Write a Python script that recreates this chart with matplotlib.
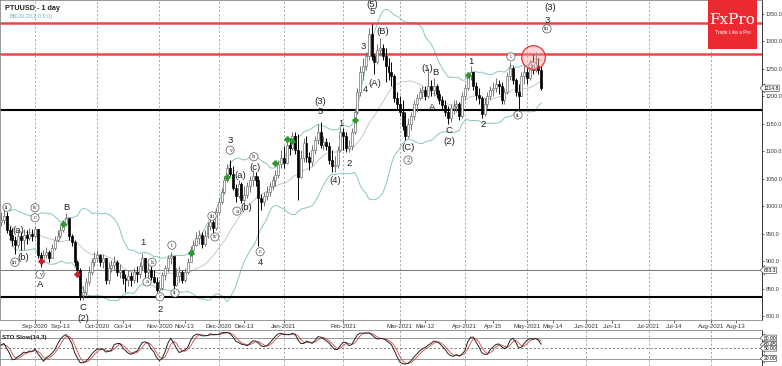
import numpy as np
import pandas as pd
import matplotlib.pyplot as plt
from matplotlib.patches import Rectangle

plt.rcParams['font.family'] = ['Liberation Sans', 'DejaVu Sans']

# price data, PTUUSD daily
start_date = "2020-08-13"
first_open = 968
closes = [971, 975, 982, 957, 948, 938, 929, 946, 938, 948, 942, 949, 946, 958, 911, 898, 911, 917, 906, 924,
          938, 946, 957, 968, 978, 946, 935, 898, 884, 838, 844, 862, 880, 898, 906, 911, 898, 906, 866, 887,
          893, 898, 880, 884, 869, 866, 873, 866, 880, 876, 891, 906, 880, 884, 871, 862, 847, 851, 875, 887,
          906, 909, 857, 873, 880, 866, 880, 898, 920, 929, 942, 948, 931, 946, 964, 971, 960, 989, 1008, 1026,
          1048, 1070, 1059, 1033, 1019, 1040, 1011, 1020, 1037, 1048, 1055, 1048, 1015, 1008, 1019, 1026, 1037, 1048, 1057, 1077,
          1088, 1079, 1111, 1106, 1128, 1102, 1053, 1088, 1115, 1090, 1080, 1102, 1121, 1135, 1111, 1117, 1110, 1084, 1073, 1075,
          1102, 1135, 1128, 1106, 1110, 1135, 1171, 1208, 1244, 1255, 1273, 1314, 1273, 1263, 1284, 1288, 1273, 1255, 1244, 1237,
          1197, 1186, 1171, 1146, 1128, 1150, 1164, 1186, 1197, 1208, 1212, 1201, 1219, 1212, 1219, 1204, 1193, 1184, 1171, 1161,
          1179, 1182, 1186, 1164, 1201, 1215, 1237, 1244, 1219, 1202, 1197, 1168, 1186, 1201, 1212, 1215, 1223, 1219, 1193, 1208,
          1237, 1252, 1230, 1208, 1201, 1237, 1244, 1233, 1255, 1248, 1255, 1248, 1214.8]
highs = [984, 989, 993, 989, 964, 960, 946, 955, 953, 958, 957, 960, 958, 964, 958, 917, 920, 926, 920, 931,
         946, 957, 966, 975, 988, 975, 949, 938, 902, 887, 855, 869, 891, 906, 917, 920, 913, 913, 906, 898,
         902, 909, 902, 895, 884, 876, 884, 880, 887, 891, 898, 915, 906, 898, 891, 884, 871, 866, 880, 893,
         911, 917, 906, 887, 891, 884, 887, 906, 927, 938, 953, 957, 953, 957, 971, 982, 975, 997, 1015, 1033,
         1055, 1077, 1084, 1073, 1040, 1048, 1044, 1037, 1044, 1055, 1066, 1062, 1055, 1022, 1026, 1037, 1044, 1055, 1066, 1084,
         1102, 1110, 1121, 1124, 1135, 1135, 1131, 1102, 1124, 1128, 1099, 1111, 1128, 1150, 1153, 1128, 1124, 1117, 1102, 1091,
         1110, 1144, 1142, 1135, 1121, 1142, 1179, 1215, 1255, 1270, 1281, 1324, 1332, 1277, 1295, 1306, 1295, 1288, 1270, 1263,
         1241, 1208, 1201, 1193, 1171, 1161, 1171, 1193, 1204, 1215, 1219, 1219, 1252, 1230, 1233, 1222, 1212, 1201, 1193, 1182,
         1186, 1193, 1193, 1190, 1208, 1222, 1244, 1255, 1244, 1226, 1215, 1201, 1197, 1208, 1219, 1226, 1233, 1230, 1226, 1215,
         1244, 1263, 1255, 1233, 1223, 1244, 1255, 1252, 1266, 1277, 1281, 1270, 1255]
lows = [953, 964, 968, 951, 938, 927, 913, 924, 920, 920, 931, 938, 937, 942, 906, 889, 898, 906, 898, 906,
        920, 935, 942, 953, 964, 938, 927, 891, 875, 829, 829, 836, 856, 875, 891, 898, 891, 887, 858, 858,
        880, 884, 873, 869, 858, 844, 855, 855, 860, 862, 869, 884, 871, 869, 866, 860, 844, 842, 847, 866,
        880, 895, 844, 855, 862, 860, 862, 876, 898, 917, 927, 931, 924, 927, 942, 957, 951, 957, 986, 1004,
        1022, 1044, 1055, 1030, 1008, 1015, 1006, 1008, 1015, 1026, 1037, 1037, 928, 993, 1000, 1011, 1019, 1030, 1037, 1051,
        1070, 1070, 1077, 1093, 1102, 1095, 1011, 1051, 1080, 1080, 1066, 1073, 1095, 1113, 1106, 1102, 1102, 1077, 1062, 1062,
        1070, 1099, 1102, 1099, 1099, 1102, 1131, 1168, 1201, 1230, 1248, 1266, 1266, 1241, 1259, 1273, 1266, 1226, 1230, 1219,
        1190, 1175, 1164, 1139, 1121, 1124, 1139, 1157, 1171, 1193, 1197, 1193, 1197, 1201, 1201, 1197, 1186, 1175, 1164, 1150,
        1153, 1168, 1171, 1157, 1161, 1193, 1212, 1230, 1212, 1193, 1186, 1161, 1164, 1179, 1193, 1201, 1208, 1204, 1186, 1186,
        1204, 1230, 1223, 1201, 1171, 1201, 1223, 1223, 1230, 1241, 1244, 1241, 1212]
opens = [first_open] + closes[:-1]

# horizontal levels
red_levels = [1333.6, 1277.2]
black_levels = [1175.2, 834.7]
gray_level = 883.3

# axis labels
price_ticks = [800, 850, 900, 950, 1000, 1050, 1100, 1150, 1200, 1250, 1300, 1350]
tick_dates = ["2020-09-01", "2020-09-13", "2020-10-01", "2020-10-14", "2020-11-01", "2020-11-13",
              "2020-12-01", "2020-12-13", "2021-01-01", "2021-02-01", "2021-03-01", "2021-03-12",
              "2021-04-01", "2021-04-15", "2021-05-01", "2021-05-14", "2021-06-01", "2021-06-13",
              "2021-07-01", "2021-07-14", "2021-08-01", "2021-08-13"]
tick_labels = ["Sep-2020", "Sep-13", "Oct-2020", "Oct-14", "Nov-2020", "Nov-13", "Dec-2020", "Dec-13",
               "Jan-2021", "Feb-2021", "Mar-2021", "Mar-12", "Apr-2021", "Apr-15", "May-2021", "May-14",
               "Jun-2021", "Jun-13", "Jul-2021", "Jul-14", "Aug-2021", "Aug-13"]

# elliott wave labels: text, bar position, price, circled
wave_text = ["ii", "iii", "(a)", "(b)", "iv", "c", "v", "A", "B", "C", "(2)",
             "1", "a", "b", "c", "2", "i", "ii", "iii", "iv", "v", "3", "(a)", "a", "(b)", "b", "(c)", "c", "4",
             "(3)", "5", "(4)", "1", "2", "3", "4", "(5)", "5", "(A)", "(B)", "(C)", "2",
             "(1)", "B", "A", "C", "(2)", "1", "2", "i", "ii", "iii", "(3)", "3", "iii"]
wave_x = [3.1, 5.9, 7.0, 8.8, 13.0, 13.0, 14.8, 14.8, 24.0, 30.0, 30.0,
          51.2, 52.6, 54.4, 57.2, 57.4, 61.4, 62.5, 75.6, 76.6, 82.0, 82.0, 85.5, 84.4, 87.6, 90.4, 90.8, 92.6, 92.6,
          113.8, 113.8, 119.1, 121.2, 124.0, 129.0, 130.0, 132.2, 132.2, 133.2, 136.0, 144.9, 144.9,
          151.6, 154.6, 153.4, 159.4, 159.4, 167.2, 171.4, 181.3, 183.8, 189.1, 195.1, 194.0, 194.0]
wave_y = [998, 898, 955, 906, 997, 979, 876, 857, 997, 815, 795,
          933, 862, 898, 835, 811, 929, 842, 982, 944, 1102, 1120, 1055, 991, 998, 1090, 1071, 917, 898,
          1190, 1172, 1046, 1150, 1077, 1290, 1212, 1368, 1354, 1224, 1319, 1106, 1084,
          1250, 1243, 1179, 1137, 1117, 1263, 1148, 1272, 1166, 1255, 1361, 1339, 1323]
wave_circ = [1, 1, 0, 0, 1, 1, 1, 0, 0, 0, 0,
             0, 1, 1, 1, 0, 1, 1, 1, 1, 1, 0, 0, 1, 0, 1, 0, 1, 0,
             0, 0, 0, 0, 0, 0, 0, 0, 0, 0, 0, 0, 1,
             0, 0, 0, 0, 0, 0, 0, 1, 1, 1, 0, 0, 1]

# signal markers
green_x = [23, 68, 81, 98, 102, 104, 126, 166]
green_y = [968, 915, 1053, 1079, 1122, 1119, 1157, 1239]
red_x = [15, 28]
red_y = [900, 876]

# --- indicators
c = pd.Series(closes, dtype=float)
h = pd.Series(highs, dtype=float)
l = pd.Series(lows, dtype=float)
mid = c.rolling(20, min_periods=5).mean()
sd = c.rolling(20, min_periods=5).std(ddof=0)
upper = mid + 2 * sd
lower = mid - 2 * sd
hh = h.rolling(14, min_periods=1).max()
ll = l.rolling(14, min_periods=1).min()
raw_k = 100 * (c - ll) / (hh - ll)
k_line = raw_k.rolling(3, min_periods=1).mean()
d_line = k_line.rolling(3, min_periods=1).mean()

all_dates = pd.bdate_range(start_date, "2021-09-30")
tick_pos = [all_dates.searchsorted(pd.Timestamp(d)) for d in tick_dates]
grid_pos = [p for p, t in zip(tick_pos, tick_labels) if "20" in t[-4:]]
n = len(closes)
idx = np.arange(n)
xmin, xmax = 0.624, 270.07

W, H = 782, 366
fig = plt.figure(figsize=(W / 100, H / 100), dpi=100)
ax = fig.add_axes([0, 1 - 320 / H, 762 / W, 320 / H])
sto = fig.add_axes([0, 0, 762 / W, 36 / H])

# --- main panel
ax.vlines(grid_pos, 0, 1, transform=ax.get_xaxis_transform(), colors="#9a9a9a",
          linestyles=(0, (2.5, 2.5)), lw=0.6, zorder=0)
ax.plot(idx, upper, color="#8cc4c4", lw=0.7, zorder=1)
ax.plot(idx, lower, color="#8cc4c4", lw=0.7, zorder=1)
ax.plot(idx, mid, color="#b4c4c4", lw=0.6, zorder=1)

for lev in red_levels:
    ax.axhline(lev, color="#e8474a", lw=1.8, zorder=2)
for lev in black_levels:
    ax.axhline(lev, color="black", lw=1.5, zorder=2)
ax.axhline(gray_level, color="#777777", lw=0.7, zorder=2)

o = np.array(opens, dtype=float)
cl = np.array(closes, dtype=float)
up = cl >= o
ax.vlines(idx, lows, highs, colors=np.where(up, "#707070", "black"), lw=0.7, zorder=3)
body = np.maximum(np.abs(cl - o), 1.0)
ax.bar(idx[up], body[up], bottom=np.minimum(o, cl)[up], width=0.7,
       color="white", edgecolor="#707070", lw=0.5, zorder=4)
ax.bar(idx[~up], body[~up], bottom=np.minimum(o, cl)[~up], width=0.7,
       color="black", edgecolor="black", lw=0.5, zorder=4)

ax.plot(green_x, green_y, ls="none", marker="P", ms=3.5, color="#2e9a2e", zorder=5)
ax.plot(red_x, red_y, ls="none", marker="P", ms=3.5, color="#c8202a", zorder=5)

for t, xx, yy, cc in zip(wave_text, wave_x, wave_y, wave_circ):
    if cc:
        ax.text(xx, yy, t, fontsize=3.8, ha="center", va="center", color="#333333", zorder=6,
                family="DejaVu Serif",
                bbox=dict(boxstyle="circle,pad=0.3", fc="white", ec="#555555", lw=0.5))
    else:
        ax.text(xx, yy, t, fontsize=6.8, ha="center", va="center", color="#222222", zorder=6)

# highlight circle at the resistance
ax.plot([189.1], [1271.7], marker="o", ms=17, mfc=(1, 0.6, 0.6, 0.4), mec="#e83030",
        mew=0.9, zorder=7)

ax.set_xlim(xmin, xmax)
ax.set_ylim(792.7, 1375.5)
ax.yaxis.tick_right()
ax.set_yticks(price_ticks)
ax.set_yticklabels([f"{v:.1f}" for v in price_ticks])
ax.set_xticks(tick_pos)
ax.set_xticklabels(tick_labels)
ax.tick_params(axis="y", labelsize=3.9, length=1.5, pad=1, width=0.5, colors="#333333")
ax.tick_params(axis="x", labelsize=4.4, length=2, pad=1, width=0.5, colors="#333333")
for s in ["left", "top", "bottom"]:
    ax.spines[s].set_color("#888888")
    ax.spines[s].set_linewidth(0.6)
ax.spines["right"].set_color("#333333")
ax.spines["right"].set_linewidth(0.7)

box = dict(boxstyle="larrow,pad=0.12", fc="white", ec="#555555", lw=0.5)
ax.annotate("1214.8", xy=(1.0, closes[-1]), xycoords=("axes fraction", "data"),
            xytext=(1, 0), textcoords="offset points", fontsize=3.6, va="center", bbox=box,
            annotation_clip=False)
ax.annotate("883.3", xy=(1.0, gray_level), xycoords=("axes fraction", "data"),
            xytext=(1, 0), textcoords="offset points", fontsize=3.6, va="center", bbox=box,
            annotation_clip=False)

ax.text(0.006, 0.985, "PTUUSD - 1 day", transform=ax.transAxes, fontsize=5.2,
        fontweight="bold", va="top", color="#222222")
ax.text(0.012, 0.955, "BB(20,20,2.0,0.0)", transform=ax.transAxes, fontsize=4,
        va="top", color="#6fb7c0")

# --- stochastic panel
sto.vlines(grid_pos, 0, 1, transform=sto.get_xaxis_transform(), colors="#9a9a9a",
           linestyles=(0, (2.5, 2.5)), lw=0.6, zorder=0)
sto.axhline(80, color="#888888", lw=0.6)
sto.axhline(20, color="#888888", lw=0.6)
sto.axhline(50, color="#666666", lw=0.6, ls=(0, (2.5, 2.5)))
sto.plot(idx, d_line, color="#d04848", lw=0.6)
sto.plot(idx, k_line, color="#222222", lw=0.7)
sto.set_xlim(xmin, xmax)
sto.set_ylim(-1.9, 103.4)
sto.set_xticks([])
sto.set_yticks([])
for s in ["left", "top", "bottom"]:
    sto.spines[s].set_color("#888888")
    sto.spines[s].set_linewidth(0.6)
sto.spines["right"].set_color("#333333")
sto.spines["right"].set_linewidth(0.7)
sto.text(0.003, 0.86, "STO Slow(14,3)", transform=sto.transAxes, fontsize=4.4,
         fontweight="bold", va="top", color="#222222")
sto_levels = [80, 60.45, 50, 20]
sto_labels = ["80.00", "60.45", "50.00", "20.00"]
for lev, lab in zip(sto_levels, sto_labels):
    sto.annotate(lab, xy=(1.0, lev), xycoords=("axes fraction", "data"), xytext=(1, 0),
                 textcoords="offset points", fontsize=3.6, va="center",
                 bbox=dict(boxstyle="larrow,pad=0.08", fc="white", ec="#555555", lw=0.5),
                 annotation_clip=False)

# FxPro logo
fig.patches.append(Rectangle((708 / W, 1 - 49 / H), 49 / W, 49 / H, transform=fig.transFigure,
                             fc="#ea2a30", ec="none", zorder=10))
fig.text(732.5 / W, 1 - 20 / H, "FxPro", fontsize=11, color="white", family="DejaVu Serif",
         ha="center", va="center", zorder=11)
fig.text(732.5 / W, 1 - 32 / H, "Trade Like a Pro", fontsize=3.4, color="white",
         ha="center", va="center", zorder=11)

fig.savefig("out.png", dpi=100, facecolor="white")
